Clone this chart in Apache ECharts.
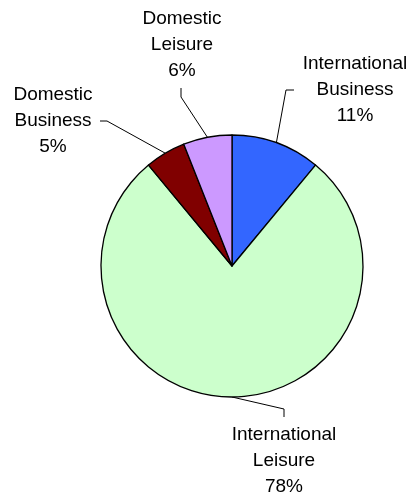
<!DOCTYPE html>
<html>
<head>
<meta charset="utf-8">
<script src="https://cdn.jsdelivr.net/npm/echarts@6/dist/echarts.min.js"></script>
<style>
html,body{margin:0;padding:0;background:#fff;}
#chart{width:416px;height:496px;}
</style>
</head>
<body>
<div id="chart"></div>
<script>
const categories = ['International Business', 'International Leisure', 'Domestic Business', 'Domestic Leisure'];
const shares = [11, 78, 5, 6];
const colors = ['#3366FF', '#CCFFCC', '#800000', '#CC99FF'];

// label anchor (centre x, middle y) and leader-line bend/end points, per category
const labelPos = [
  { x: 355, y: 90, bend: [286, 90], end: [294, 90] },
  { x: 284, y: 461, bend: [284, 409], end: [284, 417] },
  { x: 53, y: 121, bend: [107, 121], end: [100, 121] },
  { x: 182, y: 45, bend: [181, 97], end: [181, 88] }
];

const chart = echarts.init(document.getElementById('chart'), null, { renderer: 'canvas' });
chart.setOption({
  animation: false,
  backgroundColor: '#ffffff',
  series: [{
    type: 'pie',
    center: [232, 266],
    radius: [0, 131],
    startAngle: 90,
    clockwise: true,
    data: categories.map((c, i) => ({ name: c, value: shares[i], itemStyle: { color: colors[i] } })),
    itemStyle: { borderColor: '#000000', borderWidth: 1.3 },
    emphasis: { disabled: true },
    label: {
      show: true,
      position: 'outside',
      formatter: p => p.name.replace(' ', '\n') + '\n' + p.value + '%',
      fontFamily: '"Liberation Sans", Arial, sans-serif',
      fontSize: 19,
      lineHeight: 26,
      color: '#000000',
      align: 'center'
    },
    labelLine: {
      show: true,
      length: 10,
      length2: 10,
      lineStyle: { color: '#000000', width: 1 }
    },
    labelLayout: function (params) {
      const lp = labelPos[params.dataIndex];
      const start = params.labelLinePoints ? params.labelLinePoints[0] : lp.bend;
      return {
        x: lp.x,
        y: lp.y,
        align: 'center',
        verticalAlign: 'middle',
        labelLinePoints: [start, lp.bend, lp.end]
      };
    }
  }]
});
</script>
</body>
</html>
